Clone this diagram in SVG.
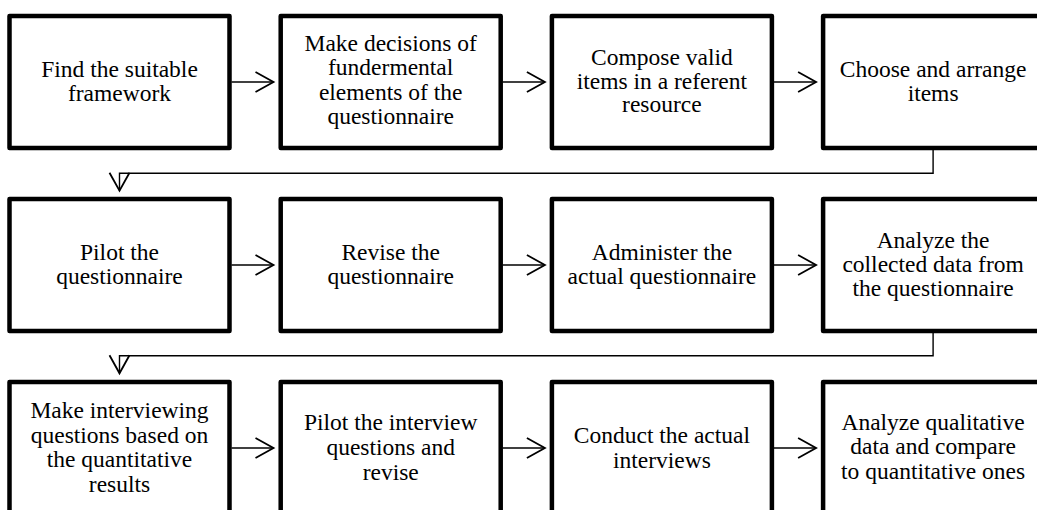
<svg xmlns="http://www.w3.org/2000/svg" width="1037" height="510" viewBox="0 0 1037 510" font-family="Liberation Serif, DejaVu Serif, serif">
<style>
.box{fill:#fff;stroke:#000;stroke-width:4.5;stroke-linejoin:round}
.lbl{font-family:'Liberation Serif','Times New Roman',serif;font-size:23.5px;fill:#000;text-anchor:middle}
.conn{fill:none;stroke:#000;stroke-width:1.4}
</style>
<defs>
<marker id="ah" markerUnits="userSpaceOnUse" markerWidth="22" markerHeight="24" viewBox="-1 -2 21 24" refX="18" refY="10" orient="auto" overflow="visible">
<path d="M0,0 L18,10 L0,20" fill="none" stroke="#000" stroke-width="1.8"/>
</marker>
</defs>
<rect width="1037" height="510" fill="#fff"/>
<g id="connectors">
<line class="conn" x1="231.5" y1="82" x2="273.5" y2="82" marker-end="url(#ah)"/>
<line class="conn" x1="502.7" y1="82" x2="544.9" y2="82" marker-end="url(#ah)"/>
<line class="conn" x1="773.9" y1="82" x2="816.1" y2="82" marker-end="url(#ah)"/>
<path class="conn" d="M933.1 150 V173.3 H119.5 V190.7" marker-end="url(#ah)"/>
<line class="conn" x1="231.5" y1="265" x2="273.5" y2="265" marker-end="url(#ah)"/>
<line class="conn" x1="502.7" y1="265" x2="544.9" y2="265" marker-end="url(#ah)"/>
<line class="conn" x1="773.9" y1="265" x2="816.1" y2="265" marker-end="url(#ah)"/>
<path class="conn" d="M933.1 333 V355.7 H119.5 V373.3" marker-end="url(#ah)"/>
<line class="conn" x1="231.5" y1="448" x2="273.5" y2="448" marker-end="url(#ah)"/>
<line class="conn" x1="502.7" y1="448" x2="544.9" y2="448" marker-end="url(#ah)"/>
<line class="conn" x1="773.9" y1="448" x2="816.1" y2="448" marker-end="url(#ah)"/>
</g>
<g id="n1"><rect class="box" x="9.5" y="16" width="220" height="132"/>
<text class="lbl" x="119.5" y="77">Find the suitable</text><text class="lbl" x="119.5" y="101">framework</text></g>
<g id="n2"><rect class="box" x="280.7" y="16" width="220" height="132"/>
<text class="lbl" x="390.7" y="51">Make decisions of</text><text class="lbl" x="390.7" y="75">fundermental</text><text class="lbl" x="390.7" y="99.5">elements of the</text><text class="lbl" x="390.7" y="124">questionnaire</text></g>
<g id="n3"><rect class="box" x="551.9" y="16" width="220" height="132"/>
<text class="lbl" x="661.9" y="65">Compose valid</text><text class="lbl" x="661.9" y="88.5">items in a referent</text><text class="lbl" x="661.9" y="112">resource</text></g>
<g id="n4"><rect class="box" x="823.1" y="16" width="220" height="132"/>
<text class="lbl" x="933.1" y="77">Choose and arrange</text><text class="lbl" x="933.1" y="101">items</text></g>
<g id="n5"><rect class="box" x="9.5" y="199" width="220" height="132"/>
<text class="lbl" x="119.5" y="260">Pilot the</text><text class="lbl" x="119.5" y="284">questionnaire</text></g>
<g id="n6"><rect class="box" x="280.7" y="199" width="220" height="132"/>
<text class="lbl" x="390.7" y="260">Revise the</text><text class="lbl" x="390.7" y="284">questionnaire</text></g>
<g id="n7"><rect class="box" x="551.9" y="199" width="220" height="132"/>
<text class="lbl" x="661.9" y="260">Administer the</text><text class="lbl" x="661.9" y="284">actual questionnaire</text></g>
<g id="n8"><rect class="box" x="823.1" y="199" width="220" height="132"/>
<text class="lbl" x="933.1" y="248">Analyze the</text><text class="lbl" x="933.1" y="272">collected data from</text><text class="lbl" x="933.1" y="296">the questionnaire</text></g>
<g id="n9"><rect class="box" x="9.5" y="382" width="220" height="132"/>
<text class="lbl" x="119.5" y="418">Make interviewing</text><text class="lbl" x="119.5" y="442.5">questions based on</text><text class="lbl" x="119.5" y="467">the quantitative</text><text class="lbl" x="119.5" y="491.5">results</text></g>
<g id="n10"><rect class="box" x="280.7" y="382" width="220" height="132"/>
<text class="lbl" x="390.7" y="430">Pilot the interview</text><text class="lbl" x="390.7" y="455">questions and</text><text class="lbl" x="390.7" y="479.5">revise</text></g>
<g id="n11"><rect class="box" x="551.9" y="382" width="220" height="132"/>
<text class="lbl" x="661.9" y="443">Conduct the actual</text><text class="lbl" x="661.9" y="467.5">interviews</text></g>
<g id="n12"><rect class="box" x="823.1" y="382" width="220" height="132"/>
<text class="lbl" x="933.1" y="430">Analyze qualitative</text><text class="lbl" x="933.1" y="454">data and compare</text><text class="lbl" x="933.1" y="478.5">to quantitative ones</text></g>
</svg>
